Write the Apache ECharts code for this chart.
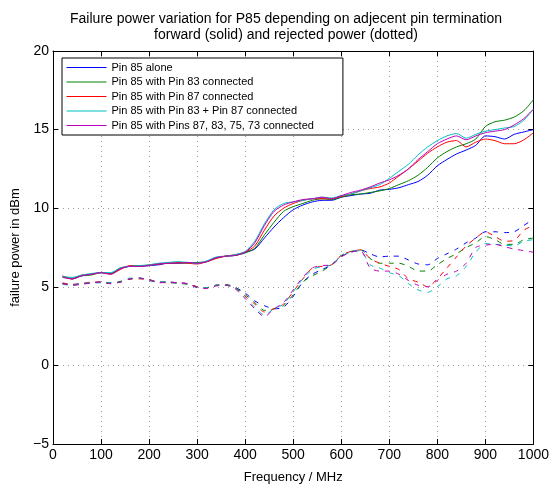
<!DOCTYPE html>
<html>
<head>
<meta charset="utf-8">
<script src="https://cdn.jsdelivr.net/npm/echarts@6/dist/echarts.min.js"></script>
<style>
  html, body { margin: 0; padding: 0; background: #fff; }
  #chart { width: 552px; height: 489px; }
</style>
</head>
<body>
<div id="chart"></div>
<script>
// frequency points (MHz)
var freqs = [20, 40, 60, 80, 100, 120, 140, 160, 180, 200,
    220, 240, 260, 280, 300, 320, 340, 360, 380, 400,
    420, 440, 460, 480, 500, 520, 540, 560, 580, 600,
    620, 640, 660, 680, 700, 720, 740, 760, 780, 800,
    820, 840, 860, 880, 900, 920, 940, 960, 980, 1000];

// forward power (solid)
var fwdAlone = [5.65, 5.5, 5.7, 5.8, 5.9, 5.85, 6.15, 6.3, 6.3, 6.35,
    6.4, 6.5, 6.5, 6.55, 6.5, 6.6, 6.85, 6.95, 7.0, 7.2,
    7.4, 8.1, 8.8, 9.4, 9.9, 10.2, 10.4, 10.5, 10.5, 10.7,
    10.8, 10.9, 10.95, 11.15, 11.2, 11.3, 11.5, 11.7, 12.1, 12.7,
    13.1, 13.45, 13.7, 14.0, 14.6, 14.55, 14.4, 14.7, 14.85, 15.0];
var fwdPin83 = [5.6, 5.55, 5.7, 5.75, 5.9, 5.85, 6.2, 6.3, 6.35, 6.35,
    6.45, 6.5, 6.5, 6.5, 6.55, 6.6, 6.85, 6.95, 7.0, 7.15,
    7.45, 8.3, 9.1, 9.8, 10.1, 10.3, 10.5, 10.6, 10.55, 10.7,
    10.85, 10.9, 11.0, 11.1, 11.25, 11.5, 11.75, 12.1, 12.6, 13.2,
    13.6, 13.9, 14.1, 14.4, 15.2, 15.5, 15.6, 15.8, 16.2, 16.9];
var fwdPin87 = [5.7, 5.5, 5.75, 5.8, 5.9, 5.8, 6.1, 6.35, 6.3, 6.4,
    6.45, 6.5, 6.55, 6.5, 6.45, 6.6, 6.8, 6.95, 7.05, 7.2,
    7.6, 8.6, 9.5, 10.0, 10.3, 10.5, 10.6, 10.6, 10.6, 10.75,
    10.9, 11.1, 11.25, 11.35, 11.6, 12.05, 12.5, 13.0, 13.5, 13.9,
    14.2, 14.3, 13.9, 14.2, 14.4, 14.3, 14.1, 14.1, 14.35, 14.8];
var fwdPin83_87 = [5.65, 5.6, 5.75, 5.85, 5.9, 5.9, 6.2, 6.3, 6.35, 6.4,
    6.5, 6.55, 6.6, 6.55, 6.5, 6.65, 6.9, 6.95, 7.05, 7.25,
    7.9, 9.0, 9.9, 10.3, 10.4, 10.5, 10.6, 10.7, 10.65, 10.8,
    10.9, 11.1, 11.3, 11.5, 11.9, 12.35, 12.8, 13.4, 13.9, 14.3,
    14.6, 14.75, 14.45, 14.7, 14.9, 15.0, 15.1, 15.2, 15.6, 16.3];
var fwdPinsAll = [5.6, 5.5, 5.7, 5.8, 5.9, 5.8, 6.15, 6.3, 6.3, 6.35,
    6.45, 6.5, 6.5, 6.55, 6.5, 6.6, 6.85, 6.95, 7.0, 7.2,
    7.8, 8.9, 9.8, 10.2, 10.4, 10.55, 10.6, 10.7, 10.6, 10.8,
    11.0, 11.15, 11.35, 11.6, 11.8, 12.1, 12.5, 13.1, 13.6, 14.1,
    14.4, 14.6, 14.35, 14.6, 14.8, 14.9, 15.0, 15.3, 15.7, 16.3];

// rejected power (dotted)
var rejAlone = [5.2, 5.15, 5.2, 5.25, 5.3, 5.25, 5.3, 5.5, 5.55, 5.45,
    5.3, 5.3, 5.25, 5.2, 5.0, 4.95, 5.1, 5.1, 4.95, 4.6,
    4.1, 3.8, 3.6, 3.7, 4.4, 5.3, 5.8, 6.1, 6.4, 6.95,
    7.2, 7.35, 7.1, 6.9, 6.95, 6.95, 6.7, 6.45, 6.4, 6.8,
    7.1, 7.4, 7.8, 8.1, 8.5, 8.5, 8.45, 8.5, 8.9, 9.3];
var rejPin83 = [5.2, 5.1, 5.2, 5.25, 5.3, 5.25, 5.35, 5.5, 5.55, 5.4,
    5.3, 5.3, 5.25, 5.15, 5.0, 4.95, 5.1, 5.15, 4.95, 4.5,
    4.0, 3.5, 3.6, 3.8, 4.5, 5.3, 5.7, 6.0, 6.4, 7.0,
    7.25, 7.35, 6.8, 6.5, 6.5, 6.5, 6.3, 6.0, 6.0, 6.4,
    6.8, 7.1, 7.5, 7.8, 8.2, 8.0, 7.7, 7.7, 8.0, 8.1];
var rejPin87 = [5.25, 5.15, 5.2, 5.3, 5.3, 5.2, 5.3, 5.5, 5.5, 5.45,
    5.3, 5.25, 5.25, 5.2, 5.0, 4.9, 5.1, 5.1, 4.9, 4.4,
    3.9, 3.4, 3.6, 3.9, 4.7, 5.5, 6.2, 6.3, 6.4, 7.0,
    7.25, 7.35, 6.8, 6.5, 6.3, 6.1, 5.5, 5.3, 5.0, 5.5,
    6.2, 6.9, 7.6, 8.1, 8.5, 8.2, 7.9, 7.95, 8.6, 8.9];
var rejPin83_87 = [5.15, 5.1, 5.2, 5.25, 5.25, 5.25, 5.3, 5.55, 5.55, 5.4,
    5.3, 5.3, 5.2, 5.2, 4.95, 4.95, 5.1, 5.1, 4.9, 4.3,
    3.7, 3.2, 3.6, 3.9, 4.7, 5.5, 6.1, 6.3, 6.4, 6.95,
    7.2, 7.3, 6.4, 6.2, 5.9, 5.7, 5.2, 4.8, 4.65, 5.0,
    5.5, 5.7, 6.3, 7.2, 7.75, 7.7, 7.65, 7.6, 7.9, 8.0];
var rejPinsAll = [5.2, 5.1, 5.15, 5.25, 5.3, 5.2, 5.3, 5.5, 5.55, 5.45,
    5.25, 5.3, 5.25, 5.2, 4.95, 4.9, 5.05, 5.1, 4.85, 4.25,
    3.6, 3.1, 3.6, 4.0, 4.8, 5.6, 6.2, 6.35, 6.4, 6.9,
    7.2, 7.3, 6.2, 6.0, 6.0, 5.8, 5.4, 5.1, 5.0, 5.4,
    5.8, 6.0, 6.5, 7.5, 7.65, 7.7, 7.55, 7.4, 7.3, 7.2];

var seriesNames = ['Pin 85 alone', 'Pin 85 with Pin 83 connected', 'Pin 85 with Pin 87 connected',
    'Pin 85 with Pin 83 + Pin 87 connected', 'Pin 85 with Pins 87, 83, 75, 73 connected'];
var seriesColors = ['#0000ff', '#008000', '#ff0000', '#00bfbf', '#bf00bf'];
var fwdData = [fwdAlone, fwdPin83, fwdPin87, fwdPin83_87, fwdPinsAll];
var rejData = [rejAlone, rejPin83, rejPin87, rejPin83_87, rejPinsAll];

var FONT = 'Liberation Sans';

function pairs(values) {
    return freqs.map(function (f, i) { return [f, values[i]]; });
}

var series = [];
// rejected first so the solid lines sit above
for (var i = 0; i < 5; i++) {
    series.push({
        name: seriesNames[i] + ' (rejected)',
        type: 'line', xAxisIndex: 0, yAxisIndex: 0,
        data: pairs(rejData[i]), symbol: 'none', smooth: 0.25,
        lineStyle: { color: seriesColors[i], width: 1, type: [5, 6] },
        itemStyle: { color: seriesColors[i] }
    });
}
for (var j = 0; j < 5; j++) {
    series.push({
        name: seriesNames[j],
        type: 'line', xAxisIndex: 0, yAxisIndex: 0,
        data: pairs(fwdData[j]), symbol: 'none', smooth: 0.25,
        lineStyle: { color: seriesColors[j], width: 1 },
        itemStyle: { color: seriesColors[j] }
    });
}

var gridLine = { show: true, lineStyle: { color: '#9a9a9a', width: 1, type: [1, 4] } };
var plainLine = { show: true, onZero: false, lineStyle: { color: '#000', width: 1 } };
var tick = { show: true, inside: true, length: 5, lineStyle: { color: '#000' } };
var label = { color: '#000', fontFamily: FONT, fontSize: 14 };

var option = {
    backgroundColor: '#fff',
    animation: false,
    title: {
        text: 'Failure power variation for P85 depending on adjecent pin termination\nforward (solid) and rejected power (dotted)',
        left: 281, top: 6, textAlign: 'center',
        textStyle: { fontFamily: FONT, fontSize: 14, fontWeight: 'normal', color: '#000', lineHeight: 16 }
    },
    legend: {
        data: seriesNames,
        orient: 'vertical', left: 62, top: 58,
        backgroundColor: '#fff', borderColor: '#000', borderWidth: 1,
        padding: [4, 29, 4, 4], itemGap: 3.5, itemWidth: 40, itemHeight: 11,
        itemStyle: { opacity: 0 },
        lineStyle: { width: 1 },
        textStyle: { fontFamily: FONT, fontSize: 11, color: '#000', lineHeight: 11 }
    },
    grid: { left: 53, right: 15, top: 51, bottom: 38 },
    xAxis: [{
        type: 'value', min: 0, max: 1000, interval: 100,
        name: 'Frequency / MHz', nameLocation: 'middle', nameGap: 27,
        nameTextStyle: { fontFamily: FONT, fontSize: 13, color: '#000' },
        axisLine: plainLine, axisTick: tick, splitLine: gridLine,
        axisLabel: Object.assign({ margin: 4, formatter: function (v) { return String(v); } }, label)
    }, {
        type: 'value', min: 0, max: 1000, interval: 100, position: 'top',
        axisLine: plainLine, axisTick: tick, splitLine: { show: false }, axisLabel: { show: false }
    }],
    yAxis: [{
        type: 'value', min: -5, max: 20, interval: 5,
        name: 'failure power in dBm', nameLocation: 'middle', nameGap: 22,
        nameTextStyle: { fontFamily: FONT, fontSize: 13, color: '#000' },
        axisLine: plainLine, axisTick: tick, splitLine: gridLine,
        axisLabel: Object.assign({ margin: 4, formatter: function (v) { return String(v).replace('-', '\u2212'); } }, label)
    }, {
        type: 'value', min: -5, max: 20, interval: 5, position: 'right',
        axisLine: plainLine, axisTick: tick, splitLine: { show: false }, axisLabel: { show: false }
    }],
    series: series
};

var chart = echarts.init(document.getElementById('chart'));
chart.setOption(option);
</script>
</body>
</html>
